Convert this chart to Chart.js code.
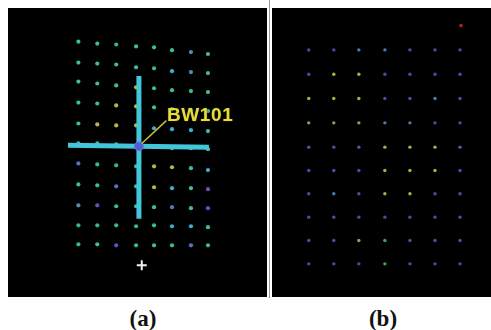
<!DOCTYPE html>
<html><head><meta charset="utf-8">
<script src="https://cdn.jsdelivr.net/npm/chart.js@4/dist/chart.umd.min.js"></script>
<style>
html,body{margin:0;padding:0;background:#fff;width:491px;height:330px;overflow:hidden;position:relative;font-family:"Liberation Sans",Arial,sans-serif}
canvas{position:absolute;background:#000}
#ca{left:8px;top:8px}
#cb{left:272px;top:8px}
#sep{position:absolute;left:269px;top:0;width:1px;height:298px;background:#9a9a9a}
.cap{position:absolute;top:306px;font-family:"Liberation Serif","Times New Roman",serif;font-weight:bold;font-size:23px;color:#111;transform:translateX(-50%)}
#bw{position:absolute;left:167px;top:104px;font-weight:bold;font-size:19px;color:#e6dc3c;letter-spacing:0.6px;text-shadow:0 0 2px #3a3600}
</style></head>
<body>
<canvas id="ca" width="259" height="289"></canvas>
<canvas id="cb" width="219" height="289"></canvas>
<div id="sep"></div>
<div id="bw">BW101</div>
<div class="cap" style="left:143px">(a)</div>
<div class="cap" style="left:383px">(b)</div>
<script>
// ---------- Panel (a) data (positions, page px) ----------
const colXA = [75, 95, 115, 136, 155, 174, 194, 212];
const rowYA = [
  [36, 38, 39, 41, 42, 45, 47, 49],
  [58, 59, 60, 63, 64, 67, 68, 69],
  [78, 80, 82, 84, 85, 87, 88, 89],
  [100, 101, 103, 104, 105, 107, 108, 109],
  [122, 123, 124, 124, 127, 128, 129, 130],
  [143, 143, 144, 146, 147, 148, 148, 149],
  [164, 165, 166, 167, 167, 168, 169, 171],
  [186, 187, 188, 188, 189, 190, 190, 191],
  [208, 208, 209, 209, 210, 210, 211, 211],
  [229, 229, 229, 230, 229, 230, 230, 231],
  [249, 249, 250, 250, 250, 250, 250, 250]
];
const colorCodeA = [
  "TTGTTTST",
  "TTTTGCST",
  "TTTYTTTT",
  "TTYYTTTT",
  "TYYYCCCT",
  "TTTTTTTT",
  "BGGTYYTC",
  "TTBTYCTP",
  "SPTTTBTP",
  "GGGGTCCT",
  "GTPGTTBG"
];
const hBar = [[64, 145], [213, 147]];
const vBar = [[139, 72], [139, 222]];
const markerBW101 = [[139, 146]];
const leader = [[142, 143], [168, 119]];
const plusMark = [[142, 271]];

// ---------- Panel (b) data ----------
const colXB = [306, 332, 358, 385, 411, 437, 463];
const rowYB = [47, 72, 97, 122, 147, 171, 195, 219, 243, 267];
const colorCodeB = [
  "PPSSPPP",
  "PYYPPPP",
  "YYYPPSP",
  "OOOSSPP",
  "BPBYYYB",
  "PPPYYYP",
  "PSPYYPP",
  "PPPPPPP",
  "PPOGPPP",
  "PPPGPPP"
];
const redMark = [[464, 22]];

const paletteA = {T:"#3cbca4", G:"#36bc7c", C:"#3caed6", Y:"#bdb444", B:"#5a72c4", P:"#6450c4", S:"#5a8aac"};
const paletteB = {P:"#5248ac", S:"#4a7cae", Y:"#b4ac40", O:"#9a9a5c", B:"#4a5abc", G:"#42a455"};

function gridPoints(xs, ys2d, codes, pal){
  const pts=[], cols=[];
  ys2d.forEach((row,r)=>row.forEach((y,c)=>{pts.push({x:xs[c],y:y});cols.push(pal[codes[r][c]]);}));
  return {pts, cols};
}
function gridPointsB(xs, ys, codes, pal){
  const pts=[], cols=[];
  ys.forEach((y,r)=>xs.forEach((x,c)=>{pts.push({x:x,y:y});cols.push(pal[codes[r][c]]);}));
  return {pts, cols};
}
const toPts = arr => arr.map(p=>({x:p[0],y:p[1]}));

const baseOpts = (xmin,xmax)=>({
  responsive:false, animation:false, events:[],
  layout:{padding:0},
  plugins:{legend:{display:false},tooltip:{enabled:false}},
  scales:{
    x:{type:'linear',min:xmin,max:xmax,display:false},
    y:{type:'linear',min:8,max:297,reverse:true,display:false}
  }
});

const gA = gridPoints(colXA, rowYA, colorCodeA, paletteA);
new Chart(document.getElementById('ca'), {
  type:'scatter',
  data:{datasets:[
    {data:toPts(plusMark), pointStyle:'cross', pointRadius:5, borderColor:'#f2f2f2', borderWidth:2, order:1},
    {data:toPts(leader), showLine:true, borderColor:'#c8c038', borderWidth:1.5, pointRadius:0, order:2},
    {data:toPts(markerBW101), pointRadius:4.5, backgroundColor:'#4f5ed2', borderColor:'#6a7ae0', borderWidth:1, order:3},
    {data:toPts(hBar), showLine:true, borderColor:'#44c6da', borderWidth:5, pointRadius:0, order:4},
    {data:toPts(vBar), showLine:true, borderColor:'#44c6da', borderWidth:5, pointRadius:0, order:5},
    {data:gA.pts, pointRadius:2.1, backgroundColor:gA.cols, borderWidth:0, order:10}
  ]},
  options: baseOpts(8, 267)
});

const gB = gridPointsB(colXB, rowYB, colorCodeB, paletteB);
new Chart(document.getElementById('cb'), {
  type:'scatter',
  data:{datasets:[
    {data:toPts(redMark), pointRadius:1.8, backgroundColor:'#b02222', borderWidth:0, order:1},
    {data:gB.pts, pointRadius:1.7, backgroundColor:gB.cols, borderWidth:0, order:2}
  ]},
  options: baseOpts(272, 491)
});
</script>
</body></html>
